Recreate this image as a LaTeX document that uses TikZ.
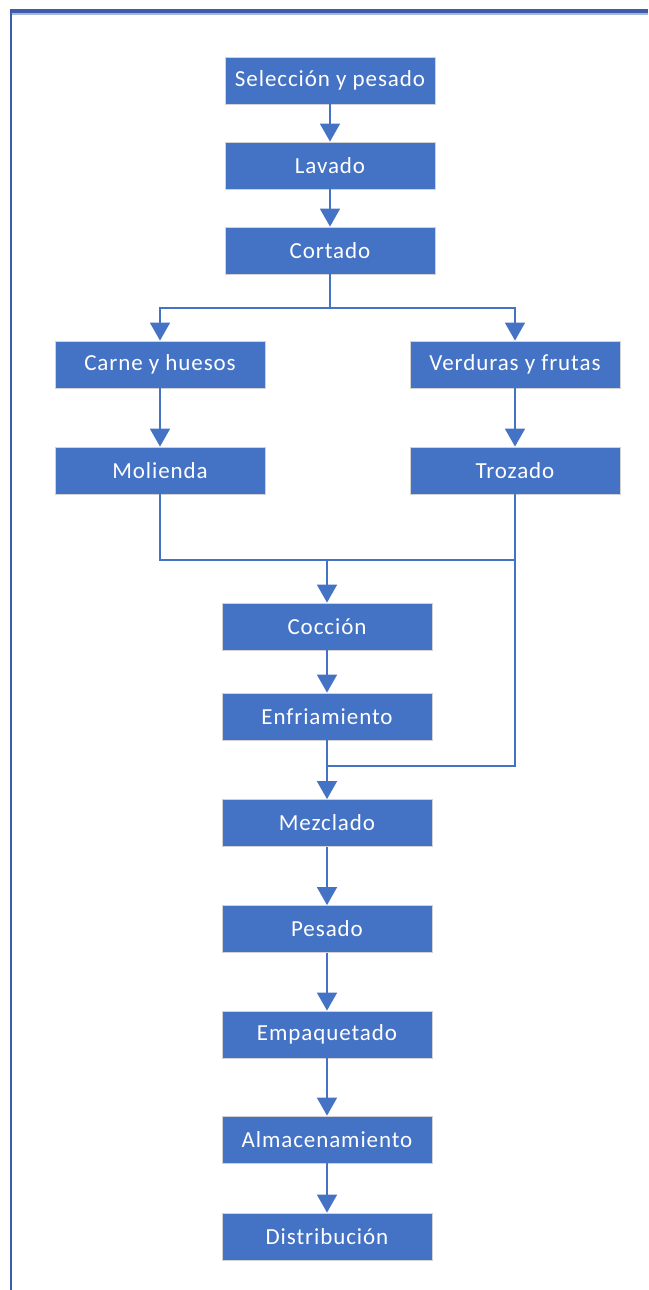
\documentclass[tikz,border=0pt]{standalone}
\usepackage{fontspec}
\setmainfont{Carlito}
\newfontfamily\stagefont{Carlito}[LetterSpace=4]
\usetikzlibrary{arrows.meta}
\definecolor{boxblue}{HTML}{4472C4}
\definecolor{frameblue}{HTML}{3B5DAA}
\begin{document}
\begin{tikzpicture}
    [
    x=1pt,y=-1pt,
    stage/.style={rectangle,fill=boxblue,draw=gray!35,line width=0.8pt,text=white,inner sep=0pt,minimum width=210pt,minimum height=47pt,font=\stagefont\fontsize{23}{25}\selectfont},
    flow/.style={draw=boxblue,line width=1.6pt},
    arrow/.style={flow,-{Triangle[width=20pt,length=18pt]}}
    ]
    \useasboundingbox (0,0) rectangle (648,1290);
    \draw [frameblue!45,line width=2pt] (10,14) -- (648,14);
    \draw [frameblue,line width=3.5pt] (10,11) -- (648,11);
    \draw [frameblue,line width=2pt] (11,10) -- (11,1290);
    \node (sel) at (330,80.5) [stage] {Selección y pesado};
    \node (lav) at (330,165.5) [stage] {Lavado};
    \node (cor) at (330,250.5) [stage] {Cortado};
    \node (car) at (160,364.5) [stage] {Carne y huesos};
    \node (ver) at (515,364.5) [stage] {Verduras y frutas};
    \node (mol) at (160,470.5) [stage] {Molienda};
    \node (tro) at (515,470.5) [stage] {Trozado};
    \node (coc) at (327,626.5) [stage] {Cocción};
    \node (enf) at (327,716.5) [stage] {Enfriamiento};
    \node (mez) at (327,823) [stage] {Mezclado};
    \node (pes) at (327,929) [stage] {Pesado};
    \node (emp) at (327,1034.5) [stage] {Empaquetado};
    \node (alm) at (327,1139.5) [stage] {Almacenamiento};
    \node (dis) at (327,1236.5) [stage] {Distribución};
    \coordinate (split) at (330,308);
    \coordinate (joinA) at (327,560);
    \coordinate (joinB) at (327,766);
    \draw [arrow] (sel) to (lav);
    \draw [arrow] (lav) to (cor);
    \draw [flow] (cor) to (split);
    \draw [arrow] (split) -| (car);
    \draw [arrow] (split) -| (ver);
    \draw [arrow] (car) to (mol);
    \draw [arrow] (ver) to (tro);
    \draw [flow] (mol) |- (tro.south |- joinA);
    \draw [flow] (tro) |- (joinB);
    \draw [arrow] (joinA) to (coc);
    \draw [arrow] (coc) to (enf);
    \draw [flow] (enf) to (joinB);
    \draw [arrow] (joinB) to (mez);
    \draw [arrow] (mez) to (pes);
    \draw [arrow] (pes) to (emp);
    \draw [arrow] (emp) to (alm);
    \draw [arrow] (alm) to (dis);
\end{tikzpicture}
\end{document}
